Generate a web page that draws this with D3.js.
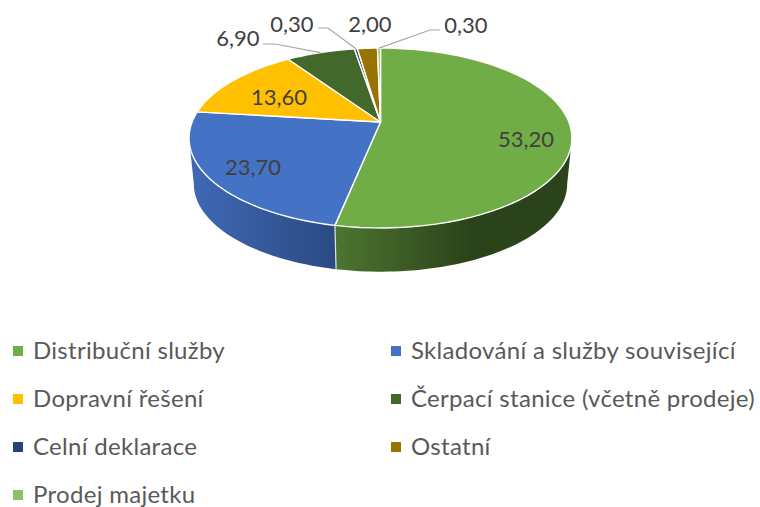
<!DOCTYPE html>
<html><head><meta charset="utf-8">
<script src="https://cdn.jsdelivr.net/npm/d3@7"></script>
<style>html,body{margin:0;background:#fff}svg{display:block}text{font-family:Lato,"Open Sans",sans-serif}</style>
</head><body><svg id="c" width="760" height="507"></svg>
<script>
const categories=["Distribuční služby","Skladování a služby související","Dopravní řešení","Čerpací stanice (včetně prodeje)","Celní deklarace","Ostatní","Prodej majetku"];
const values=[53.2,23.7,13.6,6.9,0.3,2.0,0.3];
const valueLabels=["53,20","23,70","13,60","6,90","0,30","2,00","0,30"];
const colors=["#70ad47","#4472c4","#ffc000","#43682b","#264478","#997300","#8cc168"];
const labelPos=[[526,139],[253,167],[279,97],[238,38],[292,24],[370,24],[466,25]];
const leaderElbow=[null,null,null,[[263,44],[275,44]],[[318,28],[328,28]],null,[[440,30],[430,30]]];
const sideStops=[["#4d7530","#2b431a"],["#4069b6","#2b4a82"]];

const svg=d3.select("#c");
const cx=380.5,apexY=122,midY=138,persp=-0.178,ky=87.1,kx=188.4,depth=46,shrink=0.975;
function proj(a,floor){
  const u=Math.sin(a),v=-Math.cos(a),w=1+persp*v;
  let x=cx+kx*u/w,y=apexY+ky*v/w;
  if(floor){x=cx+shrink*(x-cx);y=midY+shrink*(y-midY)+depth;}
  return [x,y];
}
const arcs=d3.pie().sort(null).value(d=>d)(values);
const line=d3.line();
const samples=(a0,a1,floor)=>d3.range(0,61).map(i=>proj(a0+(a1-a0)*i/60,floor));

const sep=arcs[0].endAngle;
const silhouette=Math.acos(persp);            // angle of the widest point on the right
const wallSpans=[[silhouette,sep],[sep,2*Math.PI-silhouette]];
const gradX=[[335,470],[189,335]];

const defs=svg.append("defs");
[0,1].forEach(i=>{
  const g=defs.append("linearGradient").attr("id","side"+i).attr("gradientUnits","userSpaceOnUse")
    .attr("x1",gradX[i][0]).attr("x2",gradX[i][1]).attr("y1",0).attr("y2",0);
  g.append("stop").attr("offset",0).attr("stop-color",sideStops[i][0]);
  g.append("stop").attr("offset",1).attr("stop-color",sideStops[i][1]);
});
// walls
wallSpans.forEach((s,i)=>{
  const pts=samples(s[0],s[1],false).concat(samples(s[1],s[0],true));
  svg.append("path").attr("d",line(pts)+"Z").attr("fill",`url(#side${i})`);
});
svg.append("path").attr("d",line([proj(sep,false),proj(sep,true)])).attr("stroke","#dfe5dc").attr("stroke-width",1.2).attr("fill","none");
// top
arcs.forEach((a,i)=>{
  const pts=[[cx,apexY]].concat(samples(a.startAngle,a.endAngle,false));
  svg.append("path").attr("d",line(pts)+"Z").attr("fill",colors[i]).attr("stroke","#fff").attr("stroke-width",1.4).attr("stroke-linejoin","round");
});
// leaders
arcs.forEach((a,i)=>{
  if(!leaderElbow[i])return;
  const p=proj((a.startAngle+a.endAngle)/2,false);
  svg.append("path").attr("d",line(leaderElbow[i].concat([p]))).attr("fill","none").attr("stroke","#a6a6a6").attr("stroke-width",1.2);
});
// labels
valueLabels.forEach((t,i)=>{
  svg.append("text").attr("x",labelPos[i][0]).attr("y",labelPos[i][1]+8).attr("text-anchor","middle")
    .attr("font-size",22).attr("fill","#404040").text(t);
});
// legend
const col=d3.scalePoint().domain([0,1]).range([13,391]);
const row=d3.scalePoint().domain([0,1,2,3]).range([351,495]);
categories.forEach((t,i)=>{
  const x=col(i%2),y=row(Math.floor(i/2));
  svg.append("rect").attr("x",x).attr("y",y-5).attr("width",10).attr("height",10).attr("fill",colors[i]);
  svg.append("text").attr("x",x+20).attr("y",y+8).attr("font-size",24).attr("letter-spacing",0.3).attr("fill","#595959").text(t);
});
</script></body></html>
